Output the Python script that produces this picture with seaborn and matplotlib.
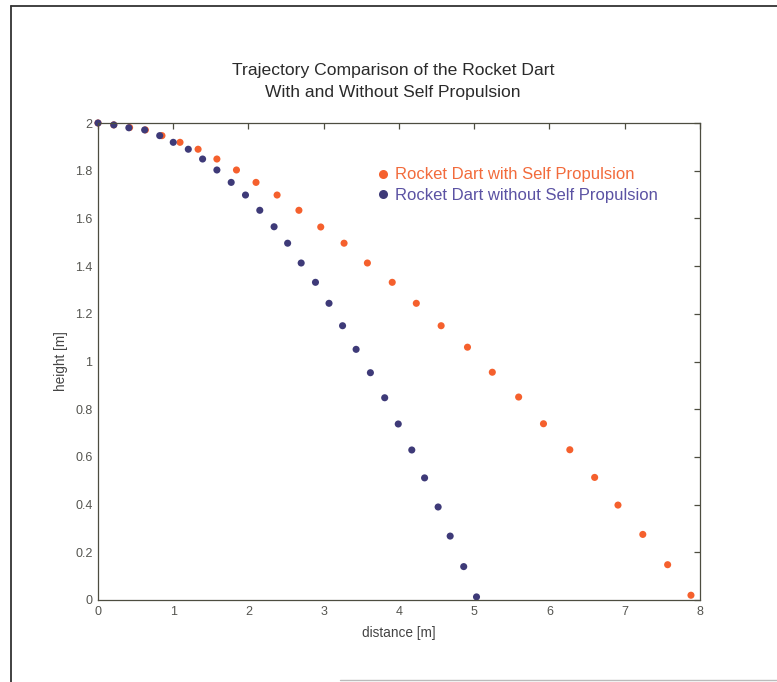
import matplotlib
matplotlib.use("Agg")
import matplotlib.pyplot as plt
import seaborn as sns
import pandas as pd
from matplotlib.lines import Line2D

# ---- data ----
series_names = ["Rocket Dart with Self Propulsion", "Rocket Dart without Self Propulsion"]
x_with = [0.0, 0.21, 0.42, 0.63, 0.85, 1.09, 1.33, 1.58, 1.84, 2.10, 2.38, 2.67, 2.96, 3.27,
          3.58, 3.91, 4.23, 4.56, 4.91, 5.24, 5.59, 5.92, 6.27, 6.60, 6.91, 7.24, 7.57, 7.88]
y_with = [2.0, 1.992, 1.981, 1.971, 1.947, 1.919, 1.890, 1.849, 1.803, 1.751, 1.698, 1.634, 1.564, 1.496,
          1.413, 1.332, 1.244, 1.150, 1.060, 0.955, 0.851, 0.739, 0.630, 0.514, 0.398, 0.275, 0.148, 0.020]
x_without = [0.0, 0.21, 0.41, 0.62, 0.82, 1.00, 1.20, 1.39, 1.58, 1.77, 1.96, 2.15, 2.34, 2.52,
             2.70, 2.89, 3.07, 3.25, 3.43, 3.62, 3.81, 3.99, 4.17, 4.34, 4.52, 4.68, 4.86, 5.03]
y_without = [2.0, 1.992, 1.980, 1.971, 1.947, 1.919, 1.890, 1.849, 1.803, 1.751, 1.698, 1.634, 1.565, 1.496,
             1.413, 1.332, 1.244, 1.150, 1.051, 0.953, 0.848, 0.738, 0.629, 0.512, 0.390, 0.268, 0.140, 0.013]
x_ticks = [0, 1, 2, 3, 4, 5, 6, 7, 8]
y_ticks = [0, 0.2, 0.4, 0.6, 0.8, 1.0, 1.2, 1.4, 1.6, 1.8, 2.0]
y_tick_labels = ["0", "0.2", "0.4", "0.6", "0.8", "1", "1.2", "1.4", "1.6", "1.8", "2"]
title_lines = ["Trajectory Comparison of the Rocket Dart", "With and Without Self Propulsion"]

df = pd.DataFrame({
    "distance": x_with + x_without,
    "height": y_with + y_without,
    "series": [series_names[0]] * len(x_with) + [series_names[1]] * len(x_without),
})

sns.set_theme(style="white")
plt.rcParams["font.family"] = ["Liberation Sans", "DejaVu Sans"]

marker_colors = ["#F5602D", "#3E3A78"]
text_colors = ["#F26B3C", "#5B52A3"]
axis_col = "#4d4d40"
tick_txt = "#555550"

fig = plt.figure(figsize=(7.77, 6.82), dpi=100)
fig.patch.set_facecolor("white")
ax = fig.add_axes([98 / 777, 1 - 600 / 682, 602 / 777, 477 / 682])

sns.scatterplot(data=df, x="distance", y="height", hue="series",
                palette=dict(zip(series_names, marker_colors)),
                s=26, edgecolor="none", linewidth=0, legend=False, ax=ax, clip_on=False)

ax.set_xlim(0, 8)
ax.set_ylim(0, 2)
ax.set_xticks(x_ticks)
ax.set_xticklabels([str(t) for t in x_ticks])
ax.set_yticks(y_ticks)
ax.set_yticklabels(y_tick_labels)
ax.tick_params(direction="in", length=4, width=0.9, color=axis_col, labelcolor=tick_txt,
               labelsize=9, top=True, right=True, pad=4)
for sp in ax.spines.values():
    sp.set_color(axis_col)
    sp.set_linewidth(0.9)

ax.set_xlabel("distance [m]", fontsize=9.8, color="#444", labelpad=6)
ax.set_ylabel("height [m]", fontsize=9.8, color="#444", labelpad=5)

fig.text(393 / 777, 1 - 70 / 682, title_lines[0], ha="center", va="center", fontsize=12.6, color="#2a2a2a")
fig.text(393 / 777, 1 - 92 / 682, title_lines[1], ha="center", va="center", fontsize=12.6, color="#2a2a2a")

handles = [Line2D([], [], marker="o", linestyle="none", markersize=6.5, markerfacecolor=c,
                  markeredgecolor="none") for c in marker_colors]
leg = ax.legend(handles, series_names, loc="upper left",
                bbox_to_anchor=(361 / 777, 1 - 154 / 682), bbox_transform=fig.transFigure,
                frameon=False, fontsize=12, handletextpad=0.25, handlelength=1.0,
                labelspacing=0.35, borderpad=0.3)
for t, c in zip(leg.get_texts(), text_colors):
    t.set_color(c)

# outer frame
fig.add_artist(Line2D([11 / 777, 11 / 777], [0, 1 - 6 / 682], transform=fig.transFigure,
                      color="#333333", lw=1.3))
fig.add_artist(Line2D([11 / 777, 1], [1 - 6 / 682, 1 - 6 / 682], transform=fig.transFigure,
                      color="#333333", lw=1.3))
fig.add_artist(Line2D([340 / 777, 1], [1 - 680 / 682, 1 - 680 / 682], transform=fig.transFigure,
                      color="#bbbbbb", lw=1.0))

fig.savefig("out.png", dpi=100, facecolor="white")
